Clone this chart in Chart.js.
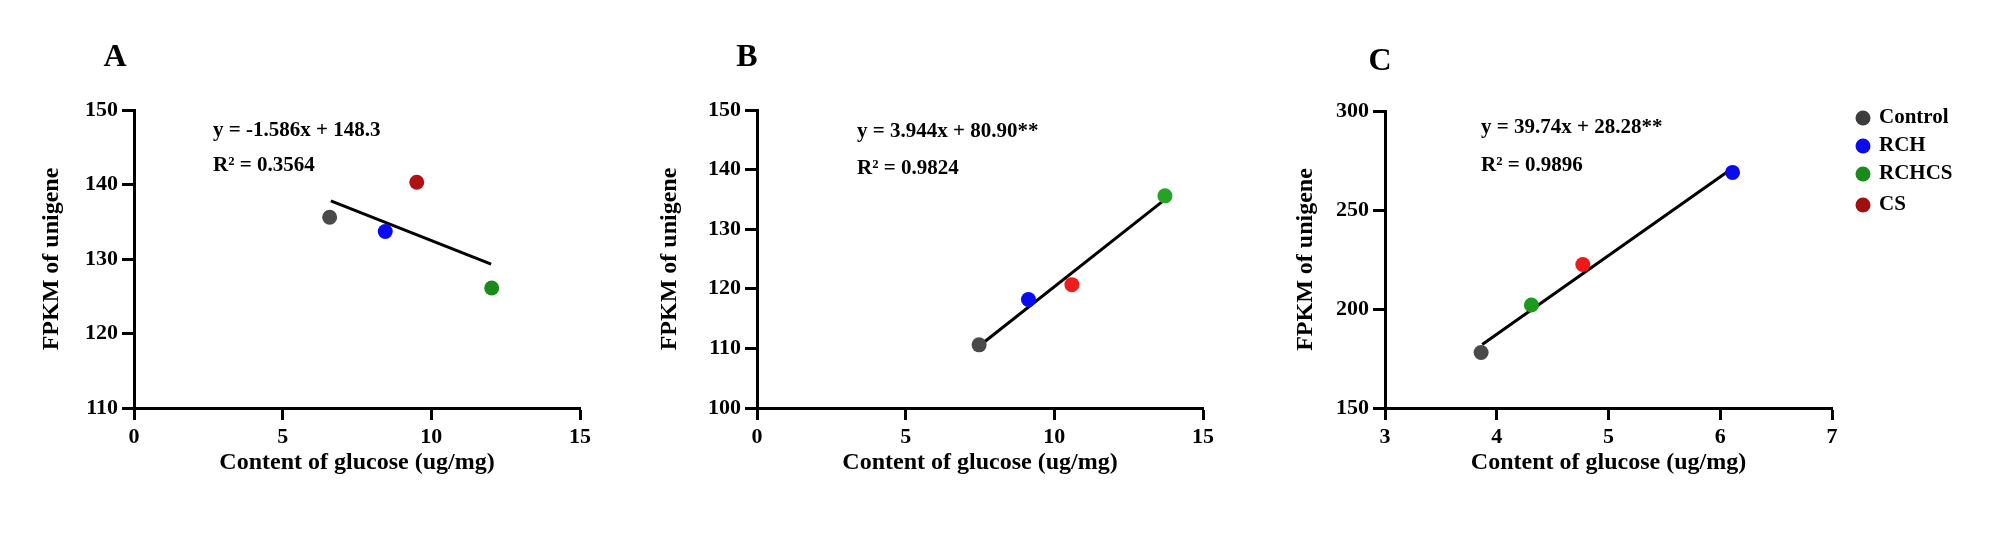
<!DOCTYPE html>
<html>
<head>
<meta charset="utf-8">
<script src="https://cdn.jsdelivr.net/npm/chart.js@4.4.0/dist/chart.umd.min.js"></script>
<style>
  html, body { margin: 0; padding: 0; background: #fff; }
  #wrap { position: relative; width: 2008px; height: 559px; overflow: hidden; background: #fff; }
  #wrap canvas { position: absolute; top: 0; }
</style>
</head>
<body>
<div id="wrap">
  <canvas id="chartA" width="596" height="559" style="left:14px"></canvas>
  <canvas id="chartB" width="596" height="559" style="left:637px"></canvas>
  <canvas id="chartC" width="743" height="559" style="left:1265px"></canvas>
</div>
<script>
// groups, same order in every panel
const groups = ['Control', 'RCH', 'RCHCS', 'CS'];

// A
const glucoseA = [6.58, 8.45, 12.03, 9.51];
const fpkmA = [135.6, 133.7, 126.1, 140.3];
const fitXA = [6.62, 12.01];
const fitYA = [137.8, 129.3];
const xTicksA = [0, 5, 10, 15];
const yTicksA = [110, 120, 130, 140, 150];
const eqA = ['y = -1.586x + 148.3', 'R\u00B2 = 0.3564'];

// B
const glucoseB = [7.47, 9.13, 13.72, 10.59];
const fpkmB = [110.6, 118.2, 135.6, 120.7];
const fitXB = [7.6, 13.65];
const fitYB = [110.9, 134.7];
const xTicksB = [0, 5, 10, 15];
const yTicksB = [100, 110, 120, 130, 140, 150];
const eqB = ['y = 3.944x + 80.90**', 'R\u00B2 = 0.9824'];

// C
const glucoseC = [3.86, 6.11, 4.31, 4.77];
const fpkmC = [178, 269, 202, 222.5];
const fitXC = [3.87, 6.09];
const fitYC = [182.1, 270.3];
const xTicksC = [3, 4, 5, 6, 7];
const yTicksC = [150, 200, 250, 300];
const eqC = ['y = 39.74x + 28.28**', 'R\u00B2 = 0.9896'];

const FONT = '"Liberation Serif", "Times New Roman", serif';
Chart.defaults.font.family = FONT;
Chart.defaults.font.weight = 'bold';
Chart.defaults.color = '#000';

function makeChart(id, cfg) {
  const datasets = groups.map((g, i) => ({
    label: g,
    data: [{ x: cfg.x[i], y: cfg.y[i] }],
    backgroundColor: cfg.colors[i],
    borderWidth: 0,
    pointRadius: 7.5,
    pointHoverRadius: 7.5
  }));
  // regression line goes last so it is drawn under the dots
  datasets.push({
    label: 'fit',
    data: cfg.fitX.map((v, i) => ({ x: v, y: cfg.fitY[i] })),
    showLine: true,
    borderColor: '#000',
    borderWidth: 3,
    pointRadius: 0
  });

  const axisCommon = {
    type: 'linear',
    border: { display: true, color: '#000', width: 3 },
    grid: { drawOnChartArea: false, drawTicks: true, tickLength: 12, tickWidth: 3, tickColor: '#000', color: '#000' },
    ticks: { padding: 4, font: { size: 22 }, color: '#000', autoSkip: false, maxRotation: 0 }
  };

  const labels = {
    id: 'labels_' + id,
    afterDraw(chart) {
      const { ctx, chartArea } = chart;
      ctx.save();
      ctx.fillStyle = '#000';
      ctx.textBaseline = 'middle';
      ctx.textAlign = 'left';
      ctx.font = 'bold 21px ' + FONT;
      cfg.eq.forEach((t, i) => ctx.fillText(t, chartArea.left + cfg.eqX, chartArea.top + cfg.eqY[i]));
      ctx.textAlign = 'center';
      ctx.font = 'bold 32px ' + FONT;
      ctx.fillText(cfg.letter, chartArea.left + cfg.letterX, cfg.letterY);
      if (cfg.legend) {
        ctx.font = 'bold 21px ' + FONT;
        ctx.textAlign = 'left';
        groups.forEach((g, i) => {
          const y = chartArea.top + cfg.legend.y[i];
          const x = chartArea.right + cfg.legend.x;
          ctx.fillStyle = cfg.legend.colors[i];
          ctx.beginPath();
          ctx.arc(x, y, 7.5, 0, Math.PI * 2);
          ctx.fill();
          ctx.fillStyle = '#000';
          ctx.fillText(g, x + 16, y);
        });
      }
      ctx.restore();
    }
  };

  return new Chart(document.getElementById(id), {
    type: 'scatter',
    data: { datasets },
    options: {
      responsive: false,
      animation: false,
      events: [],
      layout: { padding: { top: cfg.top, right: cfg.right, bottom: 0, left: 0 } },
      plugins: { legend: { display: false }, tooltip: { enabled: false } },
      scales: {
        x: Object.assign({}, axisCommon, {
          min: cfg.xTicks[0],
          max: cfg.xTicks[cfg.xTicks.length - 1],
          afterBuildTicks: s => { s.ticks = cfg.xTicks.map(v => ({ value: v })); },
          afterFit: s => { s.height = 559 - 408; s.paddingLeft = 0; s.paddingRight = 0; },
          title: { display: true, text: 'Content of glucose (ug/mg)', font: { size: 24 }, color: '#000', padding: { top: 0, bottom: 82 } }
        }),
        y: Object.assign({}, axisCommon, {
          min: cfg.yTicks[0],
          max: cfg.yTicks[cfg.yTicks.length - 1],
          afterBuildTicks: s => { s.ticks = cfg.yTicks.map(v => ({ value: v })); },
          afterFit: s => { s.width = 120; s.paddingTop = 0; s.paddingBottom = 0; },
          title: { display: true, text: 'FPKM of unigene', font: { size: 24 }, color: '#000', padding: { top: cfg.yTitlePad, bottom: 0 } }
        })
      }
    },
    plugins: [labels]
  });
}

makeChart('chartA', {
  x: glucoseA, y: fpkmA, fitX: fitXA, fitY: fitYA, xTicks: xTicksA, yTicks: yTicksA,
  colors: ['#4a4a4a', '#0b0bf0', '#1a8a1a', '#b01212'],
  eq: eqA, eqX: 79, eqY: [21, 56], letter: 'A', letterX: -19, letterY: 58,
  top: 110, right: 30, yTitlePad: 23
});

makeChart('chartB', {
  x: glucoseB, y: fpkmB, fitX: fitXB, fitY: fitYB, xTicks: xTicksB, yTicks: yTicksB,
  colors: ['#4a4a4a', '#0b0bf0', '#25a325', '#f01c1c'],
  eq: eqB, eqX: 100, eqY: [22, 59], letter: 'B', letterX: -10, letterY: 58,
  top: 110, right: 30, yTitlePad: 18
});

makeChart('chartC', {
  x: glucoseC, y: fpkmC, fitX: fitXC, fitY: fitYC, xTicks: xTicksC, yTicks: yTicksC,
  colors: ['#4a4a4a', '#0b0bf0', '#1d9a1d', '#ee1a1a'],
  eq: eqC, eqX: 96, eqY: [17, 55], letter: 'C', letterX: -5, letterY: 62,
  top: 111, right: 176, yTitlePad: 26,
  legend: { x: 31, y: [7, 35, 63, 94], colors: ['#3c3c3c', '#0b0bf0', '#1a8a1a', '#a01010'] }
});
</script>
</body>
</html>
